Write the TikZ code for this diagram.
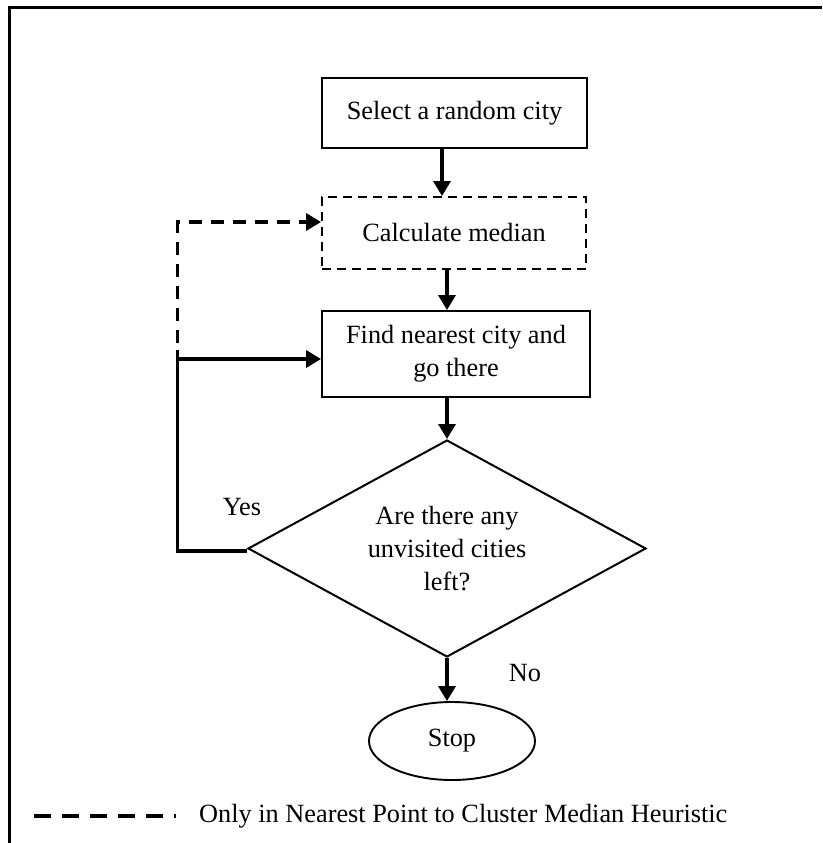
\documentclass[tikz,border=0pt]{standalone}
\usepackage{fontspec}
\setmainfont{Liberation Serif}
\usetikzlibrary{arrows.meta,shapes.geometric}
\tikzset{
  txt/.style={font=\fontsize{26.3}{33}\selectfont, align=center, inner sep=0pt},
  procbox/.style={txt, draw, line width=1.9pt, rectangle},
  dashbox/.style={txt, draw, line width=1.9pt, rectangle, dash pattern=on 9pt off 6pt},
  decbox/.style={txt, draw, line width=2pt, diamond, aspect=1.83},
  endbox/.style={txt, draw, line width=1.9pt, ellipse},
  conn/.style={line width=3.4pt},
  flow/.style={conn, -{Triangle[length=15pt,width=17pt]}},
  dashflow/.style={flow, dash pattern=on 13pt off 9pt},
  legdash/.style={line width=3.6pt, dash pattern=on 17pt off 11pt}
}
\begin{document}
\begin{tikzpicture}[x=1pt,y=-1pt]
\useasboundingbox (0,0) rectangle (822,843);
% frame (top and left edges)
\draw[line width=3pt] (9.5,843) -- (9.5,8) -- (822,8);

\node[procbox, minimum width=265pt, minimum height=70pt] (sel) at (454.5,113) {Select a random city};
\node[dashbox, minimum width=264pt, minimum height=72pt] (calc) at (454,233) {Calculate median};
\node[procbox, minimum width=268pt, minimum height=86pt] (find) at (456,354) {Find nearest city and\\go there};
\node[decbox, minimum width=398pt, minimum height=217pt] (dec) at (447,548.5) {Are there any\\unvisited cities\\left?};
\node[endbox, minimum width=166pt, minimum height=78pt] (stop) at (452,741) {Stop};

\node[txt] (yes) at (242,507) {Yes};
\node[txt] (no) at (525,673) {No};

% main flow
\draw[flow] ([xshift=-12.5pt]sel.south) -- ([xshift=-12.5pt]sel.south |- calc.north);
\draw[flow] ([xshift=-7pt]calc.south) -- ([xshift=-7pt]calc.south |- find.north);
\draw[flow] ([xshift=-9pt]find.south) -- (dec.north);
\draw[flow] (dec.south) -- (dec.south |- stop.north);

% yes loop
\coordinate (yl) at (177.5,551);
\coordinate (ytop) at (177.5,350);
\coordinate (fw) at ([yshift=-5pt]find.west);
\draw[conn] ([yshift=-2.5pt]dec.west) -- (yl) -- (ytop);
\draw[flow] (yl |- fw) -- (fw);

% dashed loop
\coordinate (dbot) at (177.5,343);
\coordinate (dtop) at (177.5,222);
\draw[dashflow] (dbot) -- (dtop) -- (calc.west |- dtop);

% legend
\coordinate (la) at (34,816);
\coordinate (lb) at (176,816);
\draw[legdash] (la) -- (lb);
\node[txt, anchor=west] (leg) at (199,816) {Only in Nearest Point to Cluster Median Heuristic};
\end{tikzpicture}
\end{document}
